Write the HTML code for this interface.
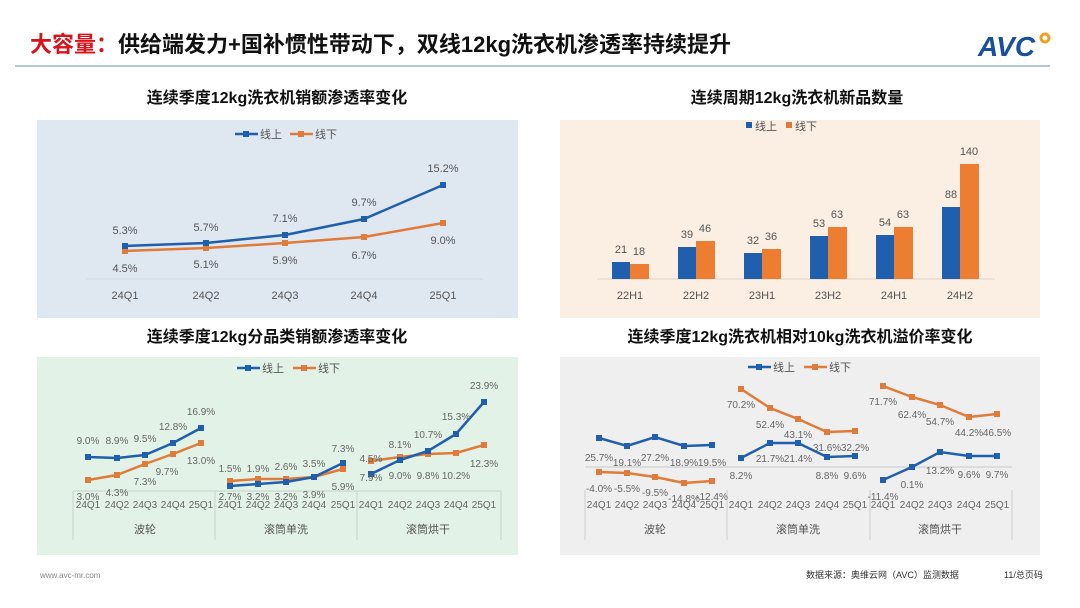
<!DOCTYPE html>
<html><head><meta charset="utf-8"><style>
html,body{margin:0;padding:0;background:#fff;}
svg{display:block;font-family:"Liberation Sans","Noto Sans CJK SC",sans-serif;}
.t{font-size:11px;fill:#555;}
.l{font-size:10px;fill:#666;}
.g{font-size:11px;fill:#555;}
</style></head><body>
<svg width="1080" height="608" viewBox="0 0 1080 608" xmlns="http://www.w3.org/2000/svg">
<defs>
<marker id="mb" viewBox="0 0 6 6" refX="3" refY="3" markerWidth="6" markerHeight="6" markerUnits="userSpaceOnUse"><rect width="6" height="6" fill="#1f5fad"/></marker>
<marker id="mo" viewBox="0 0 6 6" refX="3" refY="3" markerWidth="6" markerHeight="6" markerUnits="userSpaceOnUse"><rect width="6" height="6" fill="#e07b39"/></marker>
</defs>
<!-- header -->
<text x="30" y="52" font-size="22" font-weight="bold"><tspan fill="#d9121b">大容量：</tspan><tspan fill="#111">供给端发力+国补惯性带动下，双线12kg洗衣机渗透率持续提升</tspan></text>
<text x="978" y="56" font-size="28" font-weight="bold" fill="#1a4f9c" font-style="italic">AVC</text>
<circle cx="1045" cy="38" r="4" fill="none" stroke="#f0a020" stroke-width="3"/>
<line x1="15" y1="66" x2="1050" y2="66" stroke="#9fb3c3" stroke-width="1.5"/>
<text x="277" y="103" font-size="16" font-weight="bold" fill="#111" text-anchor="middle">连续季度12kg洗衣机销额渗透率变化</text>
<text x="797" y="103" font-size="16" font-weight="bold" fill="#111" text-anchor="middle">连续周期12kg洗衣机新品数量</text>
<text x="277" y="342" font-size="16" font-weight="bold" fill="#111" text-anchor="middle">连续季度12kg分品类销额渗透率变化</text>
<text x="800" y="342" font-size="16" font-weight="bold" fill="#111" text-anchor="middle">连续季度12kg洗衣机相对10kg洗衣机溢价率变化</text>

<!-- panel backgrounds -->
<rect x="37" y="120" width="481" height="198" fill="#dfe7f1"/>
<rect x="560" y="120" width="480" height="198" fill="#fbeee3"/>
<rect x="37" y="357" width="481" height="198" fill="#e2f2e7"/>
<rect x="560" y="357" width="480" height="198" fill="#efefef"/>

<!-- legends -->
<g font-size="11" fill="#555">
<line x1="235" y1="134" x2="258" y2="134" stroke="#1f5fad" stroke-width="2.5"/><rect x="243" y="131" width="6" height="6" fill="#1f5fad"/><text x="260" y="138">线上</text>
<line x1="290" y1="134" x2="313" y2="134" stroke="#e07b39" stroke-width="2.5"/><rect x="298" y="131" width="6" height="6" fill="#e07b39"/><text x="315" y="138">线下</text>
<rect x="746" y="122" width="6" height="6" fill="#1f5fad"/><text x="755" y="130">线上</text>
<rect x="786" y="122" width="6" height="6" fill="#e07b39"/><text x="795" y="130">线下</text>
<line x1="237" y1="368" x2="260" y2="368" stroke="#1f5fad" stroke-width="2.5"/><rect x="245" y="365" width="6" height="6" fill="#1f5fad"/><text x="262" y="372">线上</text>
<line x1="293" y1="368" x2="316" y2="368" stroke="#e07b39" stroke-width="2.5"/><rect x="301" y="365" width="6" height="6" fill="#e07b39"/><text x="318" y="372">线下</text>
<line x1="748" y1="367" x2="771" y2="367" stroke="#1f5fad" stroke-width="2.5"/><rect x="756" y="364" width="6" height="6" fill="#1f5fad"/><text x="773" y="371">线上</text>
<line x1="804" y1="367" x2="827" y2="367" stroke="#e07b39" stroke-width="2.5"/><rect x="812" y="364" width="6" height="6" fill="#e07b39"/><text x="829" y="371">线下</text>
</g>

<!-- chart 1 -->
<line x1="86" y1="279" x2="483" y2="279" stroke="#cfd8e2"/>
<polyline points="125,251 206,248 285,243 364,237 443,223" fill="none" stroke="#e07b39" stroke-width="2.5" marker-start="url(#mo)" marker-mid="url(#mo)" marker-end="url(#mo)"/>
<polyline points="125,246 206,243 285,235 364,219 443,185" fill="none" stroke="#1f5fad" stroke-width="2.5" marker-start="url(#mb)" marker-mid="url(#mb)" marker-end="url(#mb)"/>
<g class="t" text-anchor="middle">
<text x="125" y="234">5.3%</text><text x="206" y="231">5.7%</text><text x="285" y="222">7.1%</text><text x="364" y="206">9.7%</text><text x="443" y="172">15.2%</text>
<text x="125" y="272">4.5%</text><text x="206" y="268">5.1%</text><text x="285" y="264">5.9%</text><text x="364" y="259">6.7%</text><text x="443" y="244">9.0%</text>
<text x="125" y="299">24Q1</text><text x="206" y="299">24Q2</text><text x="285" y="299">24Q3</text><text x="364" y="299">24Q4</text><text x="443" y="299">25Q1</text>
</g>

<!-- chart 2 bars -->
<line x1="597" y1="279" x2="995" y2="279" stroke="#e0d3c6"/>
<g fill="#1f5fad">
<rect x="612" y="262" width="18" height="17"/><rect x="678" y="247" width="18" height="32"/><rect x="744" y="253" width="18" height="26"/><rect x="810" y="236" width="18" height="43"/><rect x="876" y="235" width="18" height="44"/><rect x="942" y="207" width="18" height="72"/>
</g>
<g fill="#ed7d31">
<rect x="630" y="264" width="19" height="15"/><rect x="696" y="241" width="19" height="38"/><rect x="762" y="249" width="19" height="30"/><rect x="828" y="227" width="19" height="52"/><rect x="894" y="227" width="19" height="52"/><rect x="960" y="164" width="19" height="115"/>
</g>
<g class="t" text-anchor="middle">
<text x="621" y="253">21</text><text x="639" y="255">18</text>
<text x="687" y="238">39</text><text x="705" y="232">46</text>
<text x="753" y="244">32</text><text x="771" y="240">36</text>
<text x="819" y="227">53</text><text x="837" y="218">63</text>
<text x="885" y="226">54</text><text x="903" y="218">63</text>
<text x="951" y="198">88</text><text x="969" y="155">140</text>
<text x="630" y="299">22H1</text><text x="696" y="299">22H2</text><text x="762" y="299">23H1</text><text x="828" y="299">23H2</text><text x="894" y="299">24H1</text><text x="960" y="299">24H2</text>
</g>

<!-- chart 3 -->
<g stroke="#c8d3cb" fill="none"><line x1="73" y1="491" x2="501" y2="491"/><line x1="73" y1="491" x2="73" y2="540"/><line x1="215" y1="491" x2="215" y2="540"/><line x1="357" y1="491" x2="357" y2="540"/><line x1="501" y1="491" x2="501" y2="540"/></g>
<g fill="none" stroke-width="2.5">
<polyline points="88,480 117,475 145,464 173,454 201,443" stroke="#e07b39" marker-start="url(#mo)" marker-mid="url(#mo)" marker-end="url(#mo)"/>
<polyline points="88,457 117,458 145,455 173,443 201,428" stroke="#1f5fad" marker-start="url(#mb)" marker-mid="url(#mb)" marker-end="url(#mb)"/>
<polyline points="230,481 258,479 286,479 314,477 343,469" stroke="#e07b39" marker-start="url(#mo)" marker-mid="url(#mo)" marker-end="url(#mo)"/>
<polyline points="230,486 258,484 286,482 314,477 343,463" stroke="#1f5fad" marker-start="url(#mb)" marker-mid="url(#mb)" marker-end="url(#mb)"/>
<polyline points="371,461 400,457 428,454 456,453 484,445" stroke="#e07b39" marker-start="url(#mo)" marker-mid="url(#mo)" marker-end="url(#mo)"/>
<polyline points="371,474 400,460 428,451 456,434 484,402" stroke="#1f5fad" marker-start="url(#mb)" marker-mid="url(#mb)" marker-end="url(#mb)"/>
</g>
<g class="l" text-anchor="middle">
<text x="88" y="444">9.0%</text><text x="117" y="444">8.9%</text><text x="145" y="442">9.5%</text><text x="173" y="430">12.8%</text><text x="201" y="415">16.9%</text>
<text x="88" y="500">3.0%</text><text x="117" y="496">4.3%</text><text x="145" y="485">7.3%</text><text x="167" y="475">9.7%</text><text x="201" y="464">13.0%</text>
<text x="230" y="472">1.5%</text><text x="258" y="472">1.9%</text><text x="286" y="470">2.6%</text><text x="314" y="467">3.5%</text><text x="343" y="452">7.3%</text>
<text x="230" y="500">2.7%</text><text x="258" y="500">3.2%</text><text x="286" y="500">3.2%</text><text x="314" y="498">3.9%</text><text x="343" y="490">5.9%</text>
<text x="371" y="462">4.5%</text><text x="400" y="448">8.1%</text><text x="428" y="438">10.7%</text><text x="456" y="420">15.3%</text><text x="484" y="389">23.9%</text>
<text x="371" y="481">7.9%</text><text x="400" y="479">9.0%</text><text x="428" y="479">9.8%</text><text x="456" y="479">10.2%</text><text x="484" y="467">12.3%</text>
<text x="88" y="508">24Q1</text><text x="117" y="508">24Q2</text><text x="145" y="508">24Q3</text><text x="173" y="508">24Q4</text><text x="201" y="508">25Q1</text>
<text x="230" y="508">24Q1</text><text x="258" y="508">24Q2</text><text x="286" y="508">24Q3</text><text x="314" y="508">24Q4</text><text x="343" y="508">25Q1</text>
<text x="371" y="508">24Q1</text><text x="400" y="508">24Q2</text><text x="428" y="508">24Q3</text><text x="456" y="508">24Q4</text><text x="484" y="508">25Q1</text>
</g>
<g class="g" text-anchor="middle"><text x="145" y="533">波轮</text><text x="286" y="533">滚筒单洗</text><text x="428" y="533">滚筒烘干</text></g>

<!-- chart 4 -->
<line x1="585" y1="467" x2="1012" y2="467" stroke="#c8c8c8"/>
<g stroke="#cccccc" fill="none"><line x1="585" y1="490" x2="585" y2="540"/><line x1="727" y1="490" x2="727" y2="540"/><line x1="870" y1="490" x2="870" y2="540"/><line x1="1012" y1="490" x2="1012" y2="540"/></g>
<g fill="none" stroke-width="2.5">
<polyline points="599,472 627,473 655,477 684,483 712,481" stroke="#e07b39" marker-start="url(#mo)" marker-mid="url(#mo)" marker-end="url(#mo)"/>
<polyline points="599,438 627,446 655,437 684,446 712,445" stroke="#1f5fad" marker-start="url(#mb)" marker-mid="url(#mb)" marker-end="url(#mb)"/>
<polyline points="741,389 770,408 798,419 827,432 855,431" stroke="#e07b39" marker-start="url(#mo)" marker-mid="url(#mo)" marker-end="url(#mo)"/>
<polyline points="741,458 770,443 798,443 827,457 855,456" stroke="#1f5fad" marker-start="url(#mb)" marker-mid="url(#mb)" marker-end="url(#mb)"/>
<polyline points="883,386 912,397 940,405 969,417 997,414" stroke="#e07b39" marker-start="url(#mo)" marker-mid="url(#mo)" marker-end="url(#mo)"/>
<polyline points="883,480 912,467 940,452 969,456 997,456" stroke="#1f5fad" marker-start="url(#mb)" marker-mid="url(#mb)" marker-end="url(#mb)"/>
</g>
<g class="l" text-anchor="middle">
<text x="599" y="461">25.7%</text><text x="627" y="466">19.1%</text><text x="655" y="461">27.2%</text><text x="684" y="466">18.9%</text><text x="712" y="466">19.5%</text>
<text x="599" y="492">-4.0%</text><text x="627" y="492">-5.5%</text><text x="655" y="496">-9.5%</text><text x="684" y="502">-14.8%</text><text x="712" y="500">-12.4%</text>
<text x="741" y="408">70.2%</text><text x="770" y="428">52.4%</text><text x="798" y="438">43.1%</text><text x="827" y="451">31.6%</text><text x="855" y="451">32.2%</text>
<text x="741" y="479">8.2%</text><text x="770" y="462">21.7%</text><text x="798" y="462">21.4%</text><text x="827" y="479">8.8%</text><text x="855" y="479">9.6%</text>
<text x="883" y="405">71.7%</text><text x="912" y="418">62.4%</text><text x="940" y="425">54.7%</text><text x="969" y="436">44.2%</text><text x="997" y="436">46.5%</text>
<text x="883" y="500">-11.4%</text><text x="912" y="488">0.1%</text><text x="940" y="474">13.2%</text><text x="969" y="478">9.6%</text><text x="997" y="478">9.7%</text>
<text x="599" y="508">24Q1</text><text x="627" y="508">24Q2</text><text x="655" y="508">24Q3</text><text x="684" y="508">24Q4</text><text x="712" y="508">25Q1</text>
<text x="741" y="508">24Q1</text><text x="770" y="508">24Q2</text><text x="798" y="508">24Q3</text><text x="827" y="508">24Q4</text><text x="855" y="508">25Q1</text>
<text x="883" y="508">24Q1</text><text x="912" y="508">24Q2</text><text x="940" y="508">24Q3</text><text x="969" y="508">24Q4</text><text x="997" y="508">25Q1</text>
</g>
<g class="g" text-anchor="middle"><text x="655" y="533">波轮</text><text x="798" y="533">滚筒单洗</text><text x="940" y="533">滚筒烘干</text></g>

<!-- footer -->
<text x="40" y="578" font-size="8" fill="#888">www.avc-mr.com</text>
<text x="806" y="578" font-size="9" fill="#333">数据来源：奥维云网（AVC）监测数据</text>
<text x="1004" y="578" font-size="9" fill="#333">11/总页码</text>
</svg>
</body></html>
